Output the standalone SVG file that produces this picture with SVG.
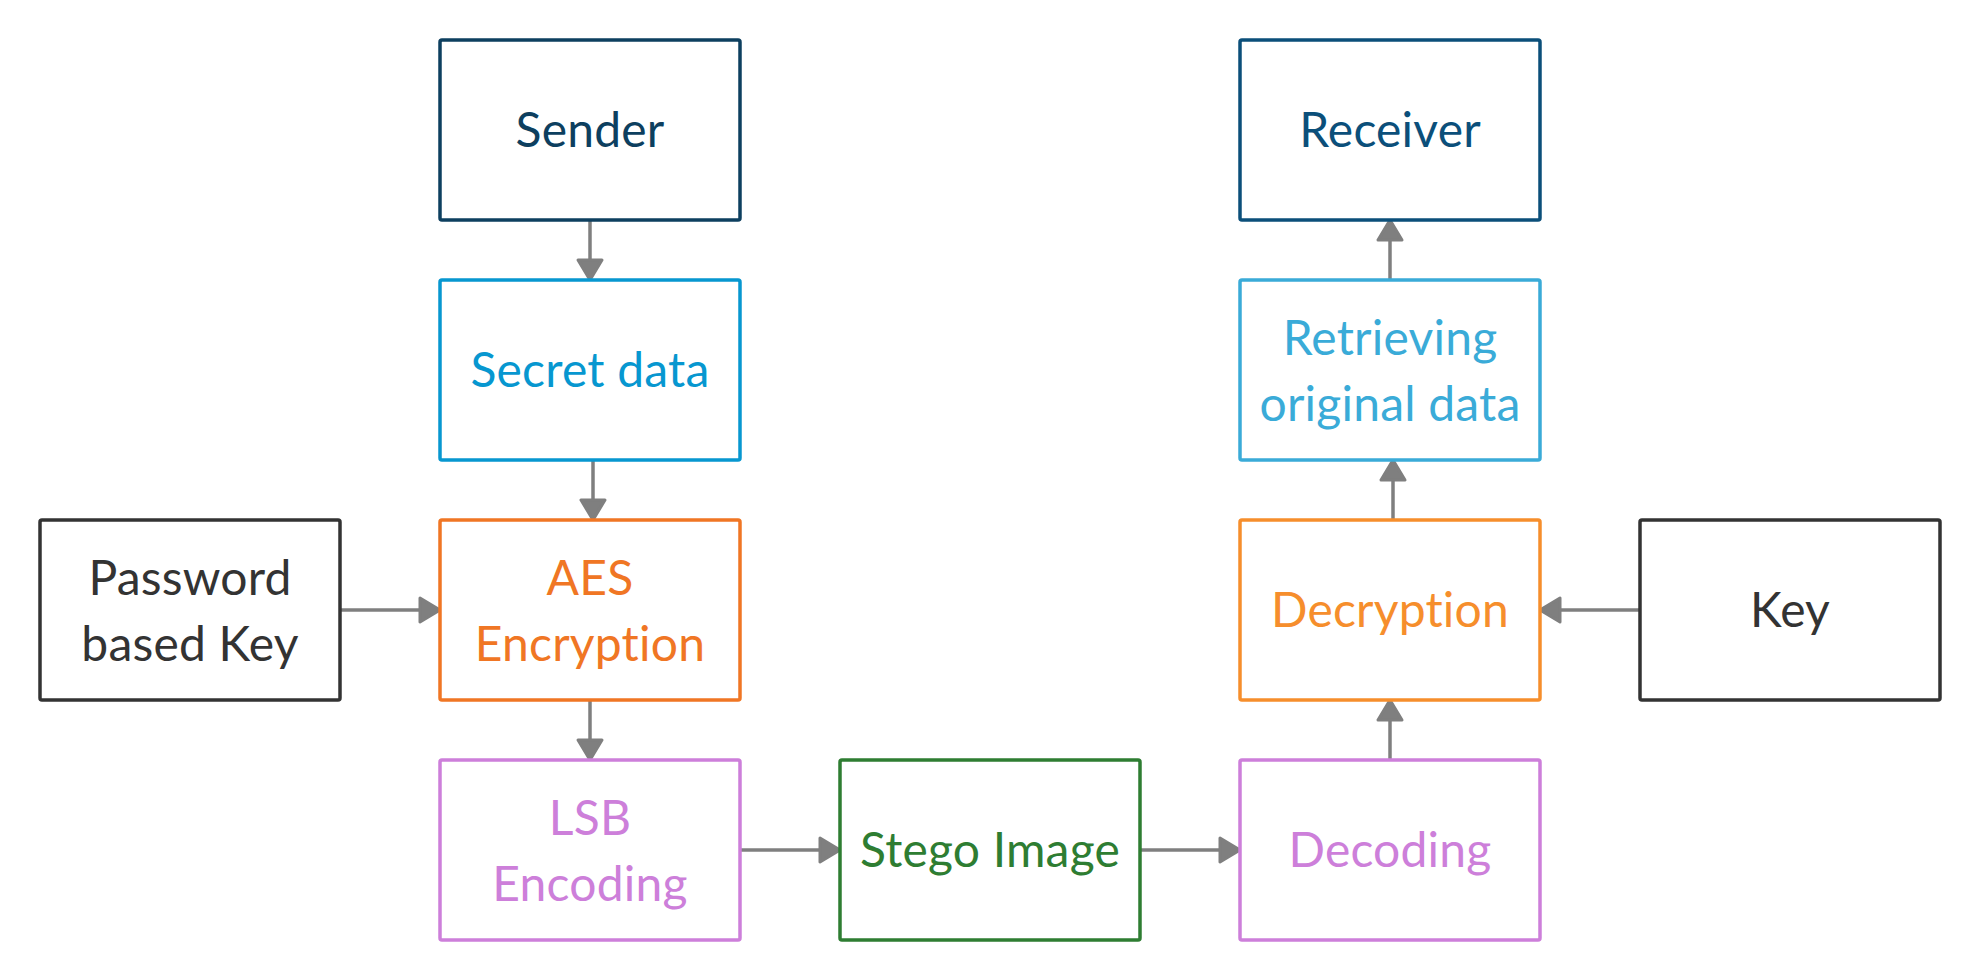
<svg xmlns="http://www.w3.org/2000/svg" width="1981" height="980" viewBox="0 0 1981 980">
<defs>
<style>
.box{fill:#ffffff;stroke-width:3.5}
.t{font-family:Lato,"Liberation Sans",sans-serif;font-size:48px;text-anchor:middle;letter-spacing:0.2px;font-variant-ligatures:none;font-feature-settings:"liga" 0,"clig" 0,"dlig" 0,"calt" 0}
.c{stroke:#7f7f7f;stroke-width:3.5;fill:none;marker-end:url(#ah)}
</style>
<marker id="ah" markerUnits="userSpaceOnUse" markerWidth="26" markerHeight="30" viewBox="0 0 26 30" refX="22" refY="15" orient="auto">
<path d="M2,3 L22,15 L2,27 Z" fill="#7f7f7f" stroke="#7f7f7f" stroke-width="3" stroke-linejoin="round"/>
</marker>
</defs>
<rect width="1981" height="980" fill="#ffffff"/>
<g id="connectors">
<line class="c" x1="590" y1="220" x2="590" y2="280"/>
<line class="c" x1="593" y1="460" x2="593" y2="520"/>
<line class="c" x1="590" y1="700" x2="590" y2="760"/>
<line class="c" x1="340" y1="610" x2="440" y2="610"/>
<line class="c" x1="740" y1="850" x2="840" y2="850"/>
<line class="c" x1="1140" y1="850" x2="1240" y2="850"/>
<line class="c" x1="1390" y1="760" x2="1390" y2="700"/>
<line class="c" x1="1393" y1="520" x2="1393" y2="460"/>
<line class="c" x1="1390" y1="280" x2="1390" y2="220"/>
<line class="c" x1="1640" y1="610" x2="1540" y2="610"/>
</g>
<g id="sender">
<rect class="box" x="440" y="40" width="300" height="180" rx="2" stroke="#0d3f5f"/>
<text class="t" x="590" y="147" fill="#0d3f5f">Sender</text>
</g>
<g id="secret-data">
<rect class="box" x="440" y="280" width="300" height="180" rx="2" stroke="#0797d0"/>
<text class="t" x="590" y="387" fill="#0797d0">Secret data</text>
</g>
<g id="aes-encryption">
<rect class="box" x="440" y="520" width="300" height="180" rx="2" stroke="#f07624"/>
<text class="t" x="590" y="595" fill="#f07624">AES</text>
<text class="t" x="590" y="661" fill="#f07624">Encryption</text>
</g>
<g id="lsb-encoding">
<rect class="box" x="440" y="760" width="300" height="180" rx="2" stroke="#cd7fda"/>
<text class="t" x="590" y="835" fill="#cd7fda">LSB</text>
<text class="t" x="590" y="901" fill="#cd7fda">Encoding</text>
</g>
<g id="password-key">
<rect class="box" x="40" y="520" width="300" height="180" rx="2" stroke="#333333"/>
<text class="t" x="190" y="595" fill="#333333">Password</text>
<text class="t" x="190" y="661" fill="#333333">based Key</text>
</g>
<g id="stego-image">
<rect class="box" x="840" y="760" width="300" height="180" rx="2" stroke="#2e7d32"/>
<text class="t" x="990" y="867" fill="#2e7d32">Stego Image</text>
</g>
<g id="decoding">
<rect class="box" x="1240" y="760" width="300" height="180" rx="2" stroke="#cd7fda"/>
<text class="t" x="1390" y="867" fill="#cd7fda">Decoding</text>
</g>
<g id="decryption">
<rect class="box" x="1240" y="520" width="300" height="180" rx="2" stroke="#f68e2c"/>
<text class="t" x="1390" y="627" fill="#f68e2c">Decryption</text>
</g>
<g id="key">
<rect class="box" x="1640" y="520" width="300" height="180" rx="2" stroke="#333333"/>
<text class="t" x="1790" y="627" fill="#333333">Key</text>
</g>
<g id="retrieving">
<rect class="box" x="1240" y="280" width="300" height="180" rx="2" stroke="#3aabd8"/>
<text class="t" x="1390" y="355" fill="#3aabd8">Retrieving</text>
<text class="t" x="1390" y="421" fill="#3aabd8">original data</text>
</g>
<g id="receiver">
<rect class="box" x="1240" y="40" width="300" height="180" rx="2" stroke="#0b4f7a"/>
<text class="t" x="1390" y="147" fill="#0b4f7a">Receiver</text>
</g>
</svg>
